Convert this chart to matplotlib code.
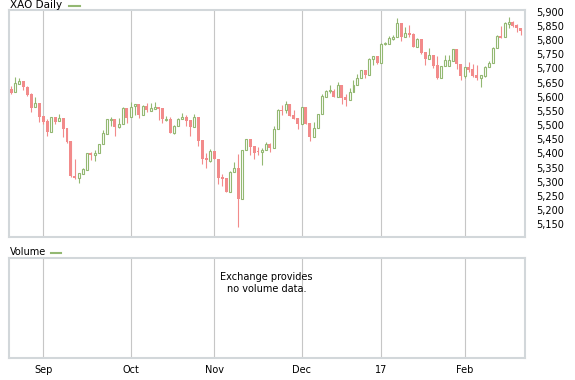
import numpy as np
import matplotlib.pyplot as plt
from matplotlib.lines import Line2D
from matplotlib.ticker import FuncFormatter

# XAO daily candles, Aug 2016 - Feb 2017
opens = [5627, 5615, 5646, 5655, 5635, 5610, 5563, 5578, 5532, 5515,
         5474, 5527, 5513, 5525, 5489, 5444, 5322, 5313, 5328, 5340,
         5401, 5394, 5400, 5432, 5469, 5519, 5521, 5494, 5503, 5560,
         5527, 5566, 5573, 5536, 5567, 5550, 5558, 5564, 5560, 5519,
         5520, 5473, 5495, 5520, 5528, 5517, 5492, 5528, 5447, 5384,
         5373, 5408, 5380, 5318, 5313, 5265, 5333, 5349, 5240, 5412,
         5451, 5426, 5406, 5404, 5412, 5433, 5420, 5485, 5553, 5552,
         5574, 5535, 5524, 5505, 5563, 5506, 5459, 5488, 5538, 5600,
         5619, 5620, 5600, 5640, 5598, 5589, 5615, 5640, 5665, 5693,
         5675, 5732, 5745, 5719, 5785, 5787, 5804, 5810, 5860, 5812,
         5825, 5821, 5776, 5803, 5758, 5733, 5746, 5711, 5666, 5707,
         5707, 5726, 5768, 5715, 5674, 5705, 5698, 5677, 5667, 5674,
         5704, 5718, 5771, 5814, 5810, 5857, 5863, 5853, 5841]
highs = [5638, 5668, 5665, 5655, 5638, 5612, 5599, 5578, 5532, 5520,
         5527, 5527, 5538, 5525, 5489, 5444, 5380, 5331, 5347, 5400,
         5405, 5412, 5432, 5483, 5521, 5529, 5521, 5524, 5564, 5560,
         5580, 5573, 5573, 5571, 5577, 5577, 5581, 5564, 5560, 5533,
         5529, 5501, 5524, 5542, 5536, 5517, 5540, 5528, 5447, 5400,
         5415, 5408, 5380, 5327, 5313, 5337, 5370, 5398, 5412, 5451,
         5451, 5426, 5421, 5419, 5440, 5435, 5497, 5555, 5570, 5585,
         5574, 5553, 5524, 5563, 5563, 5506, 5511, 5538, 5609, 5624,
         5640, 5628, 5652, 5640, 5609, 5630, 5659, 5679, 5693, 5693,
         5736, 5745, 5745, 5790, 5794, 5813, 5817, 5877, 5860, 5845,
         5853, 5825, 5806, 5803, 5758, 5771, 5746, 5743, 5708, 5747,
         5746, 5768, 5768, 5715, 5704, 5721, 5715, 5712, 5677, 5708,
         5726, 5775, 5817, 5851, 5864, 5881, 5867, 5858, 5841]
lows = [5608, 5615, 5645, 5625, 5603, 5547, 5563, 5512, 5503, 5461,
        5474, 5503, 5513, 5459, 5438, 5318, 5310, 5296, 5326, 5340,
        5378, 5374, 5400, 5432, 5469, 5498, 5462, 5488, 5503, 5508,
        5527, 5536, 5526, 5536, 5547, 5550, 5558, 5519, 5507, 5515,
        5473, 5468, 5495, 5520, 5498, 5462, 5492, 5427, 5362, 5349,
        5368, 5379, 5293, 5285, 5265, 5265, 5333, 5141, 5240, 5412,
        5395, 5381, 5395, 5360, 5412, 5406, 5420, 5485, 5535, 5542,
        5533, 5521, 5486, 5505, 5505, 5445, 5459, 5488, 5538, 5598,
        5612, 5600, 5600, 5575, 5567, 5589, 5615, 5640, 5665, 5666,
        5675, 5712, 5715, 5719, 5781, 5787, 5801, 5810, 5797, 5812,
        5811, 5776, 5776, 5751, 5712, 5733, 5702, 5662, 5666, 5707,
        5707, 5726, 5699, 5659, 5667, 5686, 5671, 5659, 5635, 5671,
        5704, 5718, 5771, 5808, 5810, 5841, 5845, 5827, 5819]
closes = [5614, 5647, 5655, 5633, 5607, 5561, 5578, 5529, 5511, 5474,
          5527, 5511, 5524, 5487, 5441, 5321, 5313, 5331, 5344, 5400,
          5394, 5400, 5432, 5472, 5521, 5521, 5494, 5504, 5560, 5526,
          5565, 5573, 5536, 5567, 5552, 5559, 5564, 5558, 5520, 5520,
          5473, 5495, 5520, 5528, 5515, 5492, 5528, 5444, 5381, 5375,
          5408, 5379, 5314, 5310, 5265, 5333, 5349, 5240, 5412, 5451,
          5423, 5402, 5404, 5412, 5433, 5420, 5485, 5553, 5551, 5573,
          5533, 5521, 5505, 5563, 5505, 5459, 5488, 5538, 5602, 5619,
          5620, 5600, 5640, 5596, 5588, 5615, 5640, 5665, 5693, 5675,
          5732, 5745, 5719, 5786, 5788, 5806, 5810, 5860, 5812, 5824,
          5818, 5776, 5803, 5753, 5733, 5746, 5709, 5666, 5708, 5728,
          5728, 5768, 5714, 5674, 5704, 5694, 5674, 5667, 5677, 5706,
          5719, 5772, 5813, 5808, 5859, 5863, 5851, 5841, 5833]

month_pos = [8, 30, 51, 73, 93, 114]
month_labels = ['Sep', 'Oct', 'Nov', 'Dec', '17', 'Feb']

green = '#93b872'
red = '#f28b8b'
frame = '#d2d7da'
gridc = '#c6c6c6'

o = np.array(opens)
h = np.array(highs)
l = np.array(lows)
c = np.array(closes)
x = np.arange(len(o))
up = c >= o

fig = plt.figure(figsize=(5.75, 3.8), dpi=100)
W, H = 575, 380
ax = fig.add_axes([8.5 / W, 1 - 237 / H, (525 - 8.5) / W, (237 - 10) / H])
axv = fig.add_axes([8.5 / W, 1 - 358 / H, (525 - 8.5) / W, (358 - 258) / H])

# wicks, then bodies on top
cols = np.where(up, green, red)
ax.vlines(x, l, h, colors=cols, lw=0.8, zorder=2)
hgt = np.maximum(np.abs(c - o), 3)
bot = np.minimum(o, c)
ax.bar(x[up], hgt[up], bottom=bot[up], width=0.5, facecolor='white',
       edgecolor=green, lw=0.8, zorder=3)
ax.bar(x[~up], hgt[~up], bottom=bot[~up], width=0.75, color=red,
       lw=0, zorder=3)

for a in (ax, axv):
    a.set_xlim(-0.7, 129.1)
    a.set_xticks(month_pos)
    a.grid(axis='x', color=gridc, lw=0.8, zorder=0)
    a.tick_params(length=0)
    for s in a.spines.values():
        s.set_color(frame)
        s.set_linewidth(1.5)

ax.set_ylim(5105, 5906)
ax.set_yticks(np.arange(5150, 5901, 50))
ax.yaxis.tick_right()
ax.yaxis.set_major_formatter(FuncFormatter(lambda v, p: f'{v:,.0f}'))
ax.tick_params(axis='y', labelsize=7, pad=8)
ax.set_xticklabels([])

axv.set_yticks([])
axv.set_ylim(0, 1)
axv.set_xticklabels(month_labels, fontsize=7)
axv.tick_params(axis='x', pad=5)
axv.text(0.5, 0.86, 'Exchange provides\nno volume data.', transform=axv.transAxes,
         ha='center', va='top', fontsize=7, linespacing=1.3)

# panel titles with small legend dashes
fig.text(10 / W, 1 - 5 / H, 'XAO Daily', fontsize=7.5, va='center', ha='left')
fig.add_artist(Line2D([69 / W, 80 / W], [1 - 6 / H, 1 - 6 / H], color=green, lw=1.5))
fig.text(10 / W, 1 - 252 / H, 'Volume', fontsize=7, va='center', ha='left')
fig.add_artist(Line2D([51 / W, 61 / W], [1 - 253 / H, 1 - 253 / H], color=green, lw=1.5))

fig.savefig('out.png', dpi=100)
